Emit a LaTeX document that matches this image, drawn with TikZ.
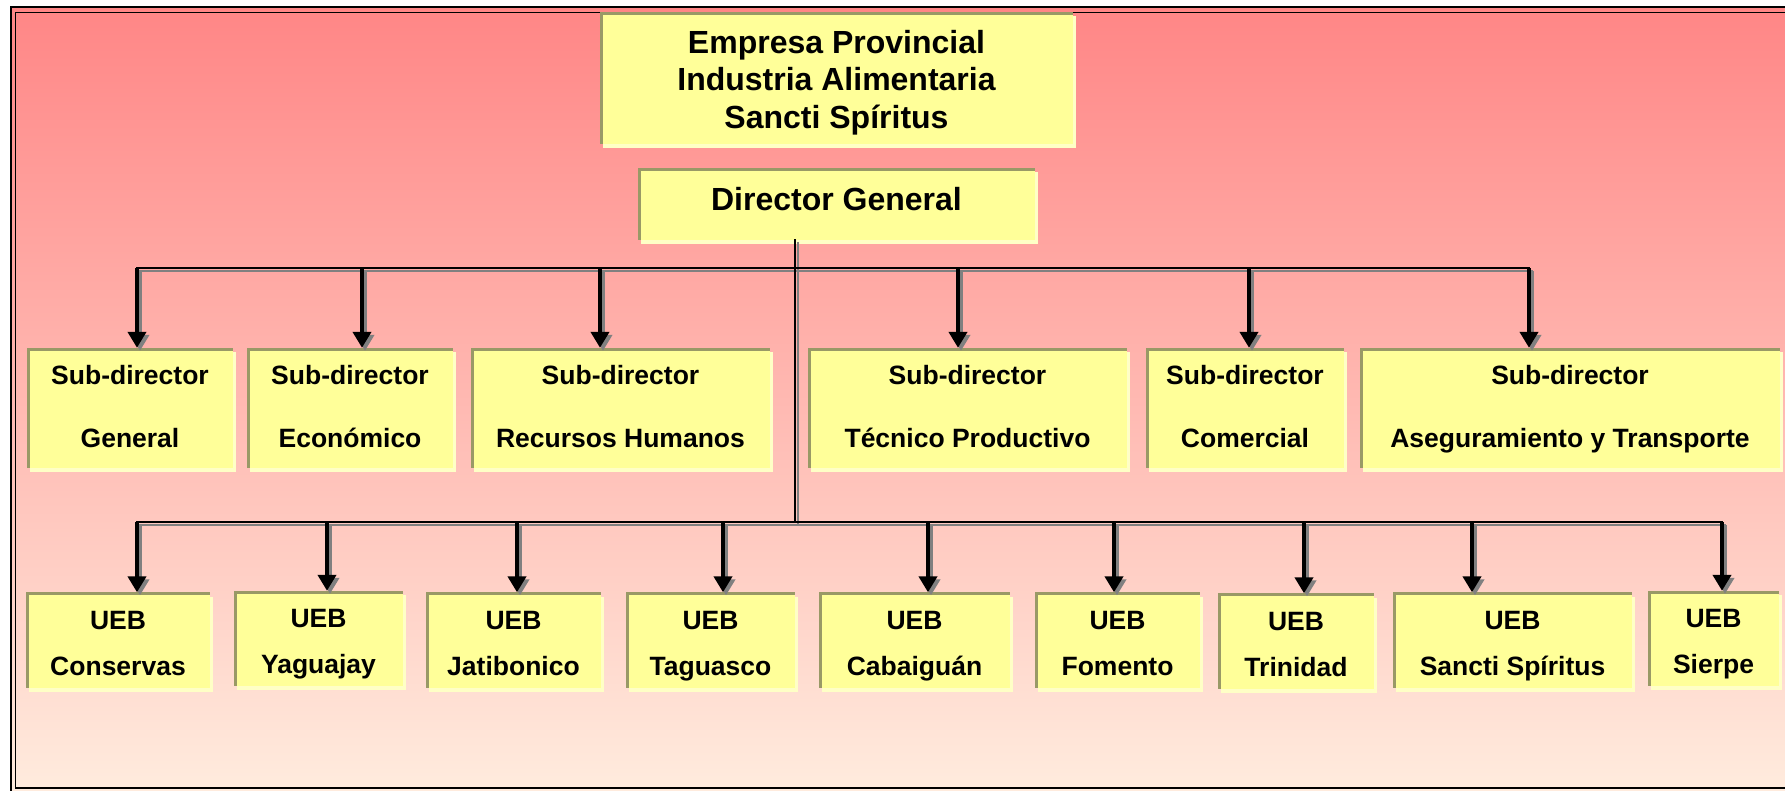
\documentclass[tikz,border=0pt]{standalone}
\usepackage{fontspec}
\setmainfont{Liberation Sans}
\usetikzlibrary{arrows.meta,shadows}
\definecolor{boxyellow}{HTML}{FFFF99}
\definecolor{paleyellow}{HTML}{FFFFC6}
\definecolor{rimolive}{HTML}{999966}
\definecolor{bgtop}{RGB}{255,134,134}
\definecolor{bgbottom}{RGB}{255,236,222}
\definecolor{shadegray}{HTML}{808080}

\begin{document}
\begin{tikzpicture}[x=1pt,y=-1pt,
	unit/.style={rectangle,fill=boxyellow,inner sep=0pt,align=center,
		general shadow={shadow xshift=3pt,shadow yshift=-4pt,fill=paleyellow},
		path picture={\draw[rimolive,line width=5pt]
			(path picture bounding box.south west) -- (path picture bounding box.north west)
			-- (path picture bounding box.north east);}},
	bigfont/.style={font=\bfseries\fontsize{32}{37.5}\selectfont},
	subfont/.style={font=\bfseries\fontsize{26.5}{63}\selectfont,text depth=4pt},
	uebfont/.style={font=\bfseries\fontsize{26.5}{46}\selectfont,text height=70pt,text depth=0pt},
	bus/.style={line width=2.8pt,line cap=rect},
	link/.style={line width=4.5pt,-{Triangle[width=18pt,length=16pt]}},
	ghost/.style={shadegray,transform canvas={xshift=3pt,yshift=-3pt}}]
	\useasboundingbox (0,0) rectangle (1785,790);
	\fill[white] (0,0) rectangle (1785,790);
	% background and frame
	\shade[top color=bgtop,bottom color=bgbottom] (10,8) rectangle (1795,795);
	\draw[line width=2pt] (11,7) rectangle (1800,800);
	\draw[line width=1.5pt] (15.5,12.5) rectangle (1800,788);
	% top
	\node[unit,bigfont,text height=100pt,text depth=0pt,minimum width=473pt,minimum height=132pt]
		(firm) at (836.5,78) {Empresa Provincial\\Industria Alimentaria\\Sancti Spíritus};
	\node[unit,bigfont,minimum width=397pt,minimum height=72pt] (dir) at (836.5,204)
		{\raisebox{10pt}{Director General}};
	% sub-directors
	\foreach \m/\xa/\xb/\txt in {1/27/233/General,2/247/453/Económico,
		3/471/770/Recursos Humanos,4/808/1127/Técnico Productivo,
		5/1146/1344/Comercial,6/1360/1780/Aseguramiento y Transporte}
	\node[unit,subfont,minimum width={\xb-\xa},minimum height=120pt] (sub\m)
		at ({(\xa+\xb)/2},408) {Sub-director\\\txt};
	% UEB
	\foreach \m/\xa/\xb/\cy/\txt in {1/26/210/640/Conservas,2/234/403/638.5/Yaguajay,
		3/426/601/640/Jatibonico,4/626/795/640/Taguasco,5/819/1010/640/Cabaiguán,
		6/1035/1200/640/Fomento,7/1218/1374/641/Trinidad,8/1393/1632/640/Sancti Spíritus,
		9/1648/1779/638.5/Sierpe}
	\node[unit,uebfont,minimum width={\xb-\xa},minimum height=95pt] (ueb\m)
		at ({(\xa+\xb)/2},\cy) {UEB\\\txt};
	% bus points
	\foreach \m/\x in {1/137,2/362,3/600,4/958,5/1249,6/1529}
	\coordinate (sb\m) at (\x,268);
	\foreach \m/\x in {1/137,2/327,3/517,4/723,5/928,6/1114,7/1304,8/1472,9/1722}
	\coordinate (ub\m) at (\x,522);
	\coordinate (hub) at (795,522);
	% connectors
	\foreach \col in {ghost,black}{
		\draw[bus,\col] (dir.south -| hub) -- (hub);
		\draw[bus,\col] (sb1) -- (sb6);
		\draw[bus,\col] (ub1) -- (ub9);
		\foreach \m in {1,...,6}
		\draw[link,\col] (sb\m) -- (sb\m |- sub\m.north);
		\foreach \m in {1,...,9}
		\draw[link,\col] (ub\m) -- (ub\m |- ueb\m.north);
	}
\end{tikzpicture}
\end{document}
